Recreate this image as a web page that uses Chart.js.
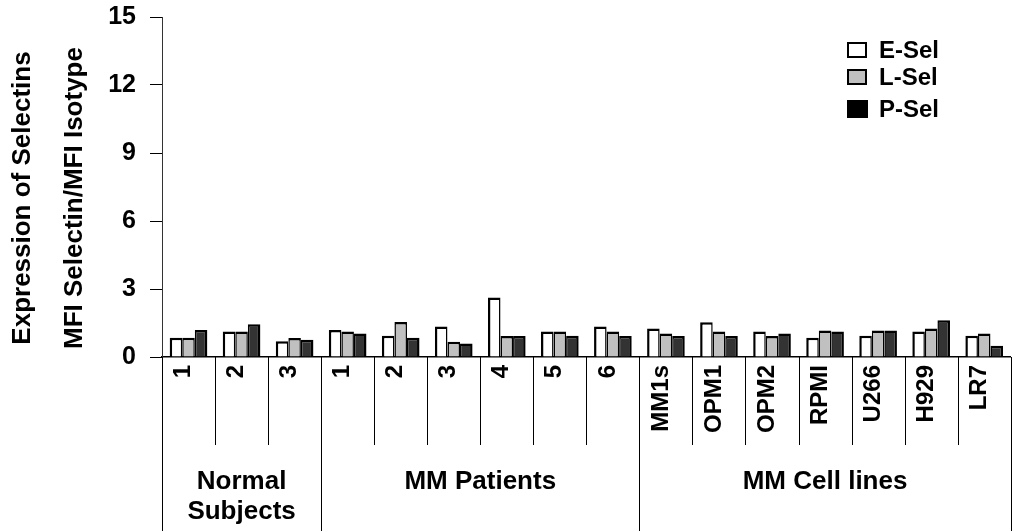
<!DOCTYPE html>
<html>
<head>
<meta charset="utf-8">
<script src="https://cdn.jsdelivr.net/npm/chart.js@4/dist/chart.umd.min.js"></script>
<style>
    html, body { margin: 0; padding: 0; background: #fff; overflow: hidden; }
    #wrap { width: 1021px; height: 531px; }
</style>
</head>
<body>
<div id="wrap"><canvas id="chart"></canvas></div>
<script>
// Categories and groups
const categories = ['1', '2', '3', '1', '2', '3', '4', '5', '6', 'MM1s', 'OPM1', 'OPM2', 'RPMI', 'U266', 'H929', 'LR7'];
const groupLabels = [['Normal', 'Subjects'], ['MM Patients'], ['MM Cell lines']];
const groupSizes = [3, 6, 7];

// Series values (MFI selectin / MFI isotype)
const seriesNames = ['E-Sel', 'L-Sel', 'P-Sel'];
const eSel = [0.85, 1.12, 0.69, 1.19, 0.94, 1.35, 2.63, 1.12, 1.35, 1.26, 1.53, 1.12, 0.85, 0.94, 1.12, 0.94];
const lSel = [0.85, 1.12, 0.84, 1.13, 1.54, 0.67, 0.93, 1.12, 1.12, 1.04, 1.12, 0.93, 1.17, 1.17, 1.26, 1.04];
const pSel = [1.19, 1.45, 0.76, 1.04, 0.85, 0.60, 0.93, 0.94, 0.93, 0.93, 0.93, 1.04, 1.12, 1.17, 1.62, 0.50];

// Axis
const yTicks = [0, 3, 6, 9, 12, 15];
const yTitle = ['Expression of Selectins', 'MFI Selectin/MFI Isotype'];

const FONT = "'Liberation Sans', Arial, sans-serif";

// Draws y title, legend, category dividers and group labels
const decorPlugin = {
    id: 'decor',
    afterDraw(chart) {
        const ctx = chart.ctx;
        const x = chart.scales.x;
        const area = chart.chartArea;
        const step = x.getPixelForTick(1) - x.getPixelForTick(0);
        const edge = (i) => x.getPixelForTick(0) + (i - 0.5) * step;

        ctx.save();
        ctx.fillStyle = '#000';

        // y title, two rotated lines
        ctx.font = `bold 26px ${FONT}`;
        ctx.textAlign = 'center';
        ctx.textBaseline = 'middle';
        [23, 75].forEach((tx, i) => {
            ctx.save();
            ctx.translate(tx, 198);
            ctx.rotate(-Math.PI / 2);
            ctx.fillText(yTitle[i], 0, 0);
            ctx.restore();
        });

        // dividers under the axis
        const groupEdges = [0];
        groupSizes.forEach(n => groupEdges.push(groupEdges[groupEdges.length - 1] + n));
        ctx.strokeStyle = '#000';
        ctx.lineWidth = 1;
        for (let i = 0; i <= categories.length; i++) {
            const px = Math.round(edge(i)) + 0.5;
            const isGroup = groupEdges.includes(i);
            ctx.beginPath();
            ctx.moveTo(px, area.bottom);
            ctx.lineTo(px, isGroup ? chart.height : area.bottom + 88);
            ctx.stroke();
        }

        // group labels
        ctx.font = `bold 26px ${FONT}`;
        groupLabels.forEach((lines, g) => {
            const cx = (edge(groupEdges[g]) + edge(groupEdges[g + 1])) / 2;
            lines.forEach((t, j) => ctx.fillText(t, cx, 482 + j * 30));
        });

        // legend
        const rowsY = [50, 77, 109];
        ctx.font = `bold 24px ${FONT}`;
        ctx.textAlign = 'left';
        chart.data.datasets.forEach((ds, i) => {
            const y = rowsY[i];
            if (i === 2) {
                ctx.fillStyle = '#000';
                ctx.fillRect(847, y - 9, 21, 18);
            } else {
                ctx.fillStyle = ds.backgroundColor;
                ctx.fillRect(848, y - 7, 18, 14);
                ctx.lineWidth = 2;
                ctx.strokeRect(848, y - 7, 18, 14);
            }
            ctx.fillStyle = '#000';
            ctx.fillText(ds.label, 879, y + 1);
        });
        ctx.restore();
    }
};

new Chart(document.getElementById('chart'), {
    type: 'bar',
    data: {
        labels: categories,
        datasets: [
            {
                label: seriesNames[0], data: eSel, backgroundColor: '#ffffff', borderColor: '#000',
                borderWidth: { top: 2.5, left: 2.5, right: 1.5, bottom: 0 }
            },
            {
                label: seriesNames[1], data: lSel, backgroundColor: '#c0c0c0', borderColor: '#000',
                borderWidth: { top: 2.5, left: 1.5, right: 1.5, bottom: 0 }
            },
            {
                label: seriesNames[2], data: pSel, backgroundColor: '#333333', borderColor: '#000',
                borderWidth: { top: 2.5, left: 1.5, right: 2.5, bottom: 0 }
            }
        ]
    },
    options: {
        responsive: true,
        maintainAspectRatio: false,
        animation: false,
        layout: { padding: { top: 17, right: 0, bottom: 0, left: 0 } },
        plugins: {
            legend: { display: false },
            tooltip: { enabled: false }
        },
        datasets: {
            bar: { categoryPercentage: 0.71, barPercentage: 1.0 }
        },
        scales: {
            x: {
                grid: { display: false, drawTicks: false },
                border: { display: true, color: '#000', width: 1.5 },
                ticks: {
                    color: '#000',
                    font: { family: FONT, size: 24, weight: 'bold' },
                    minRotation: 90,
                    maxRotation: 90,
                    autoSkip: false,
                    padding: 8,
                    labelOffset: -5
                },
                afterFit: (s) => { s.height = 174; }
            },
            y: {
                min: 0,
                max: 15,
                afterBuildTicks: (s) => { s.ticks = yTicks.map(v => ({ value: v })); },
                grid: { display: true, drawOnChartArea: false, drawTicks: true, tickLength: 12, color: '#000' },
                border: { display: true, color: '#333', width: 1 },
                ticks: {
                    color: '#000',
                    font: { family: FONT, size: 25, weight: 'bold', lineHeight: '4px' },
                    padding: 14
                },
                afterFit: (s) => { s.width = 162; }
            }
        }
    },
    plugins: [decorPlugin]
});
</script>
</body>
</html>
